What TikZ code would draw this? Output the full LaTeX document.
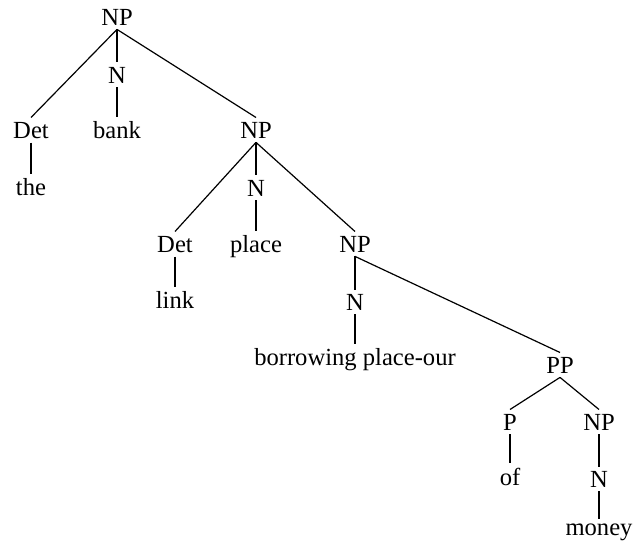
\documentclass[tikz,border=0pt]{standalone}
\usepackage{fontspec}
\setmainfont{Liberation Serif}
\begin{document}
\begin{tikzpicture}[
    x=0.5pt, y=-0.5pt,
    cat/.style={anchor=base, inner sep=2pt, font=\fontsize{12.3}{14}\selectfont},
    branch/.style={line width=0.6pt}
    ]
    \useasboundingbox (0,0) rectangle (635,552);

    \node[cat] (NPa) at (117,25) {NP};
    \node[cat] (Na) at (117,83) {N};
    \node[cat] (Deta) at (31,138) {Det};
    \node[cat] (bank) at (117,138) {bank};
    \node[cat] (NPb) at (256,138) {NP};
    \node[cat] (the) at (31,195) {the};
    \node[cat] (Nb) at (256,196) {N};
    \node[cat] (Detb) at (175,252) {Det};
    \node[cat] (place) at (256,252) {place};
    \node[cat] (NPc) at (355,252) {NP};
    \node[cat] (link) at (175,308) {link};
    \node[cat] (Nc) at (355,310) {N};
    \node[cat] (borrow) at (355,365) {borrowing place-our};
    \node[cat] (PP) at (560,373) {PP};
    \node[cat] (P) at (510,430) {P};
    \node[cat] (NPd) at (599,430) {NP};
    \node[cat] (of) at (510,485) {of};
    \node[cat] (Nd) at (599,487) {N};
    \node[cat] (money) at (599,535) {money};

    \draw[branch] (NPa.south) -- (Deta.north);
    \draw[branch] (NPa.south) -- (Na.north);
    \draw[branch] (NPa.south) -- (NPb.north);
    \draw[branch] (Na.south) -- (bank.north);
    \draw[branch] (Deta.south) -- (the.north);
    \draw[branch] (NPb.south) -- (Detb.north);
    \draw[branch] (NPb.south) -- (Nb.north);
    \draw[branch] (NPb.south) -- (NPc.north);
    \draw[branch] (Nb.south) -- (place.north);
    \draw[branch] (Detb.south) -- (link.north);
    \draw[branch] (NPc.south) -- (Nc.north);
    \draw[branch] (NPc.south) -- (PP.north);
    \draw[branch] (Nc.south) -- (borrow.north);
    \draw[branch] (PP.south) -- (P.north);
    \draw[branch] (PP.south) -- (NPd.north);
    \draw[branch] (P.south) -- (of.north);
    \draw[branch] (NPd.south) -- (Nd.north);
    \draw[branch] (Nd.south) -- (money.north);

\end{tikzpicture}
\end{document}
